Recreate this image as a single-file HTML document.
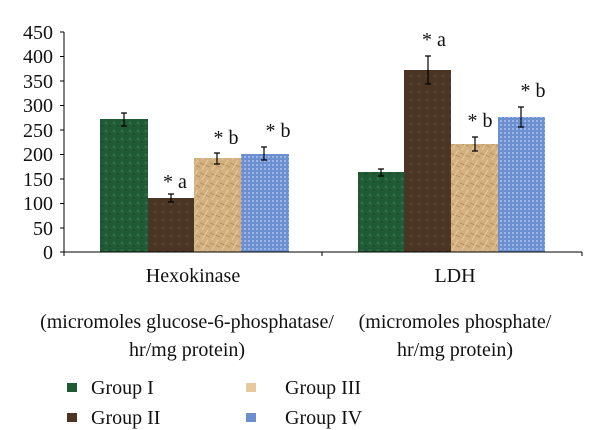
<!DOCTYPE html>
<html><head><meta charset="utf-8"><style>body{margin:0;background:#fff}svg{display:block}text{font-family:"Liberation Serif",serif;fill:#111}</style></head><body>
<svg width="600" height="430" viewBox="0 0 600 430">
<defs>
<pattern id="g1" width="8" height="8" patternUnits="userSpaceOnUse"><rect width="8" height="8" fill="#1f5a35"/><circle cx="2" cy="3" r="1.5" fill="#2e7045"/><circle cx="6" cy="6" r="1" fill="#174a2a"/></pattern>
<pattern id="g2" width="8" height="8" patternUnits="userSpaceOnUse"><rect width="8" height="8" fill="#4a3424"/><circle cx="3" cy="4" r="1.5" fill="#5a4230"/></pattern>
<pattern id="g3" width="10" height="10" patternUnits="userSpaceOnUse"><rect width="10" height="10" fill="#d2b080"/><path d="M0 3 L10 7" stroke="#b8925e" stroke-width="1"/><path d="M2 10 L8 0" stroke="#e6cba0" stroke-width="1"/></pattern>
<pattern id="g4" width="4" height="4" patternUnits="userSpaceOnUse"><rect width="4" height="4" fill="#6c8fd0"/><rect width="2" height="2" fill="#9bb5e6"/></pattern>
</defs>
<g font-size="20" text-anchor="end">
<text x="53" y="259">0</text><text x="53" y="235">50</text><text x="53" y="210">100</text><text x="53" y="186">150</text><text x="53" y="161">200</text><text x="53" y="137">250</text><text x="53" y="112">300</text><text x="53" y="88">350</text><text x="53" y="63">400</text><text x="53" y="39">450</text>
</g>
<g stroke="#000" stroke-width="1">
<line x1="64" y1="32" x2="64" y2="256"/>
<line x1="60" y1="32" x2="64" y2="32"/><line x1="60" y1="56.5" x2="64" y2="56.5"/><line x1="60" y1="81" x2="64" y2="81"/><line x1="60" y1="105.5" x2="64" y2="105.5"/><line x1="60" y1="130" x2="64" y2="130"/><line x1="60" y1="154.5" x2="64" y2="154.5"/><line x1="60" y1="179" x2="64" y2="179"/><line x1="60" y1="203.5" x2="64" y2="203.5"/><line x1="60" y1="228" x2="64" y2="228"/>
</g>
<rect x="100" y="119" width="48" height="133" fill="url(#g1)"/>
<rect x="148" y="198" width="46" height="54" fill="url(#g2)"/>
<rect x="194" y="158" width="47" height="94" fill="url(#g3)"/>
<rect x="241" y="154" width="48" height="98" fill="url(#g4)"/>
<rect x="358" y="172" width="46" height="80" fill="url(#g1)"/>
<rect x="404" y="70" width="47" height="182" fill="url(#g2)"/>
<rect x="451" y="144" width="47" height="108" fill="url(#g3)"/>
<rect x="498" y="117" width="47" height="135" fill="url(#g4)"/>
<line x1="60" y1="252" x2="582" y2="252" stroke="#000"/>
<line x1="322" y1="252" x2="322" y2="256" stroke="#000"/><line x1="582" y1="252" x2="582" y2="256" stroke="#000"/>
<g stroke="#000" stroke-width="1.2" fill="none">
<path d="M124 113V126M121 113H127M121 126H127"/>
<path d="M171 194V202M168 194H174M168 202H174"/>
<path d="M217 153V164M214 153H220M214 164H220"/>
<path d="M264 147V160M261 147H267M261 160H267"/>
<path d="M381 169V176M378 169H384M378 176H384"/>
<path d="M428 56V84M425 56H431M425 84H431"/>
<path d="M475 137V151M472 137H478M472 151H478"/>
<path d="M521 107V127M518 107H524M518 127H524"/>
</g>
<g font-size="20" text-anchor="middle">
<text x="175" y="188">* a</text><text x="226" y="144">* b</text><text x="278" y="137">* b</text>
<text x="434" y="46">* a</text><text x="480" y="127">* b</text><text x="533" y="97">* b</text>
</g>
<g font-size="20" text-anchor="middle">
<text x="193" y="282">Hexokinase</text><text x="455" y="282">LDH</text>
<text x="187" y="328">(micromoles glucose-6-phosphatase/</text><text x="187" y="356">hr/mg protein)</text>
<text x="455" y="328">(micromoles phosphate/</text><text x="455" y="356">hr/mg protein)</text>
</g>
<rect x="67" y="383" width="10" height="9" fill="#1f5a35"/>
<rect x="67" y="413" width="10" height="9" fill="#4a3424"/>
<rect x="246" y="383" width="10" height="9" fill="#e6c99e"/>
<rect x="246" y="413" width="10" height="9" fill="#6c8fd0"/>
<g font-size="20">
<text x="91" y="394">Group I</text><text x="91" y="424">Group II</text>
<text x="285" y="394">Group III</text><text x="285" y="424">Group IV</text>
</g>
</svg>
</body></html>
